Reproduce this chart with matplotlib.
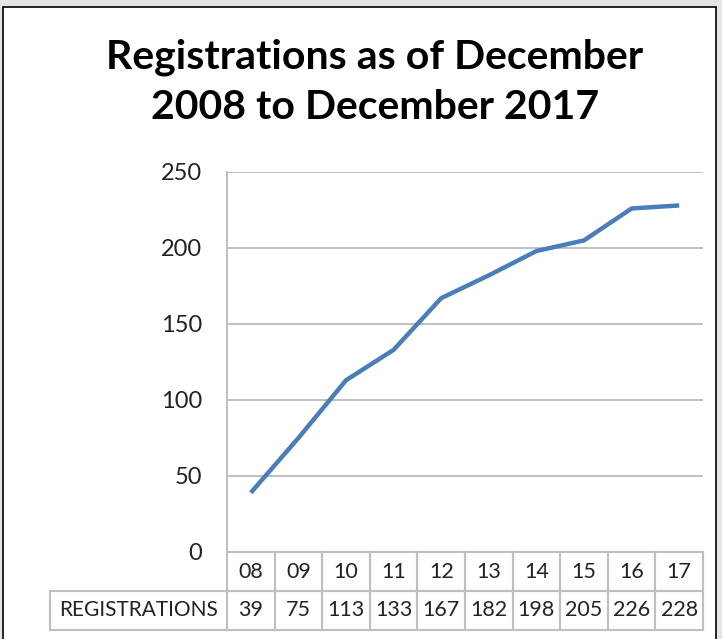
"""
Registrations line chart with an Excel-style data table underneath.
"""

import matplotlib.pyplot as plt
from matplotlib.patches import Rectangle
from matplotlib.transforms import blended_transform_factory

# Data
years = ["08", "09", "10", "11", "12", "13", "14", "15", "16", "17"]
registrations = [39, 75, 113, 133, 167, 182, 198, 205, 226, 228]
row_label = "REGISTRATIONS"
y_ticks = [0, 50, 100, 150, 200, 250]

plt.rcParams["font.family"] = ["Lato", "DejaVu Sans"]

fig = plt.figure(figsize=(7.22, 6.39), dpi=100)
fig.patch.set_facecolor("#e4e4e4")

# White chart frame with black border
fig.patches.append(Rectangle((3 / 722, -0.05), 713 / 722, 1.05 - 7 / 639,
                             transform=fig.transFigure, facecolor="white",
                             edgecolor="black", linewidth=1.2, zorder=-5))

ax = fig.add_axes([227 / 722, 1 - 552 / 639, 476 / 722, 380 / 639])
ax.set_facecolor("white")

x = list(range(len(years)))
ax.plot(x, registrations, color="#4a7ebb", linewidth=3.2,
        solid_capstyle="butt", zorder=3)

ax.set_xlim(-0.5, len(years) - 0.5)
ax.set_ylim(0, 250)
ax.set_yticks(y_ticks)
ax.set_yticklabels([str(t) for t in y_ticks], fontsize=17, color="#222222")
ax.tick_params(axis="y", length=0, pad=18)
ax.set_xticks([])

# Grid
ax.grid(axis="y", color="#bfbfbf", linewidth=1.4)
for side in ["top", "right", "bottom"]:
    ax.spines[side].set_visible(False)
ax.spines["left"].set_color("#bfbfbf")
ax.spines["left"].set_linewidth(1.4)

# Data table below the plot
trans = blended_transform_factory(ax.transData, ax.transAxes)
row_h = 39 / 380
line_kw = dict(facecolor="none", edgecolor="#bfbfbf", linewidth=1.5,
               transform=trans, clip_on=False)
for i, (yr, val) in enumerate(zip(years, registrations)):
    ax.add_patch(Rectangle((i - 0.5, -row_h), 1, row_h, **line_kw))
    ax.add_patch(Rectangle((i - 0.5, -2 * row_h), 1, row_h, **line_kw))
    ax.text(i, -row_h / 2, yr, transform=trans, ha="center", va="center",
            fontsize=15.5, color="#222222")
    ax.text(i, -1.5 * row_h, str(val), transform=trans, ha="center",
            va="center", fontsize=15.5, color="#222222")

label_w = 177 * len(years) / 476
ax.add_patch(Rectangle((-0.5 - label_w, -2 * row_h), label_w, row_h, **line_kw))
ax.text(-0.5 - label_w / 2, -1.5 * row_h, row_label, transform=trans,
        ha="center", va="center", fontsize=15, color="#222222")

# Title
fig.text(375 / 722, 1 - 82 / 639,
         "Registrations as of December\n2008 to December 2017",
         ha="center", va="center", fontsize=29.5, fontweight="bold",
         linespacing=1.45)

fig.savefig("out.png", dpi=100, facecolor=fig.get_facecolor())
